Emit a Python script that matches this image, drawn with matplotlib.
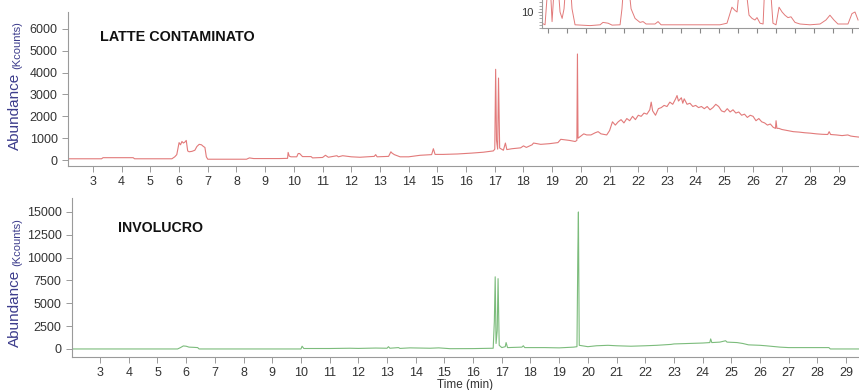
import matplotlib
matplotlib.use("Agg")
import matplotlib.pyplot as plt
from matplotlib.ticker import MultipleLocator

plt.rcParams['font.family'] = ['Liberation Sans', 'DejaVu Sans']

# chromatogram: contaminated milk (top)
t_latte = [2.13, 2.5, 3.0, 3.3, 3.35, 4.0, 4.4, 4.45, 5.0, 5.6, 5.75, 5.85, 5.92, 6.0, 6.05, 6.1, 6.15,
           6.2, 6.25, 6.3, 6.35, 6.45, 6.55, 6.62, 6.7, 6.78, 6.85, 6.9, 6.95, 7.0, 7.5, 8.0, 8.35,
           8.45, 8.6, 9.0, 9.5, 9.78, 9.8, 9.84, 9.9, 10.1, 10.15, 10.2, 10.3, 10.6, 10.65, 11.0,
           11.1, 11.2, 11.5, 11.55, 11.7, 12.0, 12.3, 12.8, 12.85, 12.9, 13.3, 13.38, 13.42, 13.5,
           13.7, 14.0, 14.4, 14.8, 14.86, 14.92, 15.2, 15.7, 16.2, 16.6, 16.95, 17.0, 17.03, 17.06,
           17.1, 17.13, 17.17, 17.3, 17.37, 17.42, 17.6, 17.9, 18.0, 18.1, 18.3, 18.35, 18.6, 18.9,
           19.2, 19.3, 19.6, 19.8, 19.86, 19.88, 19.9, 19.95, 20.1, 20.2, 20.35, 20.5, 20.6, 20.7,
           20.9, 21.0, 21.1, 21.2, 21.3, 21.4, 21.5, 21.6, 21.7, 21.8, 21.9, 22.0, 22.1, 22.2, 22.3,
           22.4, 22.45, 22.5, 22.6, 22.7, 22.8, 22.9, 23.0, 23.1, 23.2, 23.3, 23.35, 23.4, 23.5,
           23.55, 23.6, 23.7, 23.8, 23.9, 24.0, 24.1, 24.2, 24.3, 24.4, 24.5, 24.6, 24.7, 24.8,
           24.9, 25.0, 25.1, 25.2, 25.3, 25.4, 25.5, 25.6, 25.7, 25.8, 25.9, 26.0, 26.1, 26.2,
           26.3, 26.4, 26.5, 26.6, 26.7, 26.78, 26.8, 26.83, 26.9, 27.0, 27.2, 27.4, 27.6, 27.8,
           28.0, 28.2, 28.4, 28.6, 28.65, 28.7, 28.9, 29.1, 29.3, 29.4, 29.5, 29.7]
a_latte = [60, 60, 60, 60, 110, 110, 110, 60, 60, 60, 60, 150, 250, 800, 700, 850, 780,
           820, 900, 420, 380, 400, 450, 620, 720, 700, 620, 580, 150, 40, 40, 40, 40,
           100, 70, 70, 70, 80, 350, 180, 150, 150, 300, 300, 160, 160, 100, 120,
           220, 130, 200, 150, 200, 150, 130, 170, 250, 150, 170, 380, 320, 250,
           150, 150, 220, 250, 520, 260, 260, 280, 320, 360, 420, 500, 4150, 900,
           500, 3750, 550, 450, 780, 480, 520, 560, 650, 580, 700, 780, 720, 750,
           800, 950, 900, 850, 900, 4850, 1000, 1050, 1200, 1150, 1150, 1250, 1300, 1200,
           1150, 1350, 1750, 1600, 1750, 1850, 1700, 1900, 1800, 2000, 1850, 2050, 2000, 2150, 2100,
           2300, 2650, 2250, 2050, 2350, 2400, 2500, 2450, 2650, 2550, 2800, 2950, 2700, 2850,
           2600, 2800, 2550, 2600, 2450, 2500, 2400, 2450, 2350, 2450, 2300, 2400, 2550, 2450,
           2250, 2200, 2350, 2200, 2300, 2150, 2200, 2050, 2100, 1950, 2050, 2000, 1800, 1900,
           1750, 1700, 1600, 1650, 1500, 1450, 1800, 1450, 1450, 1400, 1350, 1300, 1280, 1250,
           1230, 1200, 1180, 1170, 1300, 1170, 1150, 1120, 1150, 1100, 1080, 1050]

# chromatogram: packaging (bottom)
t_invol = [2.02, 5.7, 5.8, 5.9, 6.0, 6.1, 6.25, 6.4, 6.45, 10.0, 10.04, 10.1, 11.0, 11.7, 12.0,
           12.6, 13.0, 13.05, 13.1, 13.4, 13.45, 13.8, 14.5, 14.8, 15.2, 16.0, 16.7, 16.74, 16.77,
           16.8, 16.84, 16.87, 16.91, 17.0, 17.12, 17.15, 17.2, 17.7, 17.75, 17.8, 18.5, 19.0,
           19.5, 19.62, 19.65, 19.67, 19.7, 20.0, 20.3, 20.7, 21.0, 21.5, 22.0, 22.4, 22.9, 23.0,
           23.5, 24.0, 24.25, 24.28, 24.32, 24.6, 24.8, 24.85, 25.2, 25.4, 25.6, 26.0, 26.2, 26.7,
           27.0, 27.5, 28.4, 28.45, 29.5]
a_invol = [0, 0, 150, 330, 300, 200, 180, 150, 0, 0, 300, 50, 50, 80, 60,
           100, 80, 250, 80, 150, 60, 120, 80, 120, 30, 40, 80, 3000, 7900,
           600, 2000, 7700, 400, 150, 250, 700, 150, 200, 350, 150, 150, 120,
           200, 250, 10500, 15000, 400, 250, 350, 400, 350, 300, 350, 400, 500, 550,
           600, 650, 700, 1100, 700, 750, 900, 750, 700, 600, 450, 400, 350, 200,
           150, 150, 150, 0, 0]

# zoomed inset (cut at the top of the picture)
t_inset = [5.568, 5.584, 5.595, 5.603, 5.611, 5.621, 5.632, 5.642, 5.653, 5.663, 5.674, 5.684,
           5.695, 5.716, 5.726, 5.742, 5.821, 5.874, 5.889, 5.916, 5.937, 5.979, 5.989, 6.0,
           6.021, 6.037, 6.058, 6.084, 6.1, 6.116, 6.163, 6.179, 6.195, 6.347, 6.4, 6.505,
           6.542, 6.568, 6.584, 6.595, 6.611, 6.637, 6.658, 6.674, 6.689, 6.7, 6.716, 6.732,
           6.742, 6.768, 6.784, 6.8, 6.816, 6.832, 6.847, 6.863, 6.879, 6.9, 6.926, 6.979,
           7.032, 7.063, 7.084, 7.105, 7.126, 7.179, 7.2, 7.216, 7.232]
a_inset = [3, 2, 20, 30, 28, 4, 25, 30, 26, 10, 6, 12,
           30, 30, 12, 2, 1.5, 2, 3.5, 3, 1.8, 2, 12, 30,
           30, 12, 6, 3.5, 4, 2.5, 2.5, 4, 2, 2, 2, 2,
           3, 13, 11, 10, 30, 30, 8, 6, 5, 6.5, 3, 2.5,
           30, 30, 3, 2, 13, 10, 8, 6.5, 7, 3.5, 2.5, 2,
           2.5, 5, 8, 5, 2.5, 2.5, 9, 10, 5]

red = '#e27a7a'
green = '#7cbc7c'
grey = '#9a9a9a'
label_col = '#3c3c8c'

fig = plt.figure(figsize=(8.59, 3.9), dpi=100)

def style(ax):
    for s in ['top', 'right']:
        ax.spines[s].set_visible(False)
    for s in ['left', 'bottom']:
        ax.spines[s].set_color(grey)
        ax.spines[s].set_linewidth(0.8)
    ax.tick_params(colors=grey, labelcolor='#333333', labelsize=9, length=4, width=0.7)

ax1 = fig.add_axes([68/859, 1 - 166/390, 1 - 68/859, 154/390])
ax1.plot(t_latte, a_latte, color=red, lw=0.8)
style(ax1)
ax1.set_xticks(range(3, 30))
ax1.set_yticks(range(0, 7000, 1000))
ax1.set_xlim(2.13, 29.69)
ax1.set_ylim(-270, 6770)
fig.text(100/859, 1 - 37/390, 'LATTE CONTAMINATO', fontsize=10.4, fontweight='bold',
         color='#111111', va='center')

ax2 = fig.add_axes([72/859, 33/390, 1 - 72/859, 159/390])
ax2.plot(t_invol, a_invol, color=green, lw=0.8)
style(ax2)
ax2.set_xticks(range(3, 30))
ax2.set_yticks(range(0, 17500, 2500))
ax2.set_xlim(2.02, 29.45)
ax2.set_ylim(-880, 16530)
fig.text(118/859, 1 - 228/390, 'INVOLUCRO', fontsize=10.2, fontweight='bold',
         color='#111111', va='center')
ax2.set_xlabel('Time (min)', fontsize=8.5, color='#333333', labelpad=0)

# y labels
for yb, yk in [(150, 69), (347, 266)]:
    fig.text(15/859, 1 - yb/390, 'Abundance', rotation=90, ha='center', va='bottom',
             fontsize=11, color=label_col)
    fig.text(17/859, 1 - yk/390, '(Kcounts)', rotation=90, ha='center', va='bottom',
             fontsize=8, color=label_col)

# inset
ax3 = fig.add_axes([542/859, 1 - 28/390, 1 - 542/859, 40/390])
ax3.plot(t_inset, a_inset, color=red, lw=0.7)
style(ax3)
ax3.set_xlim(5.568, 7.237)
ax3.set_ylim(0, 25)
ax3.set_yticks([10, 20])
ax3.set_xticks([5.6 + 0.1 * i for i in range(17)])
ax3.yaxis.set_minor_locator(MultipleLocator(2))
ax3.tick_params(axis='x', labelbottom=False, length=3.5, colors='#888888', width=0.8)
ax3.tick_params(axis='y', which='minor', length=2, colors=grey)
ax3.tick_params(axis='y', labelsize=8, length=3)

fig.savefig('out.png', dpi=100)
